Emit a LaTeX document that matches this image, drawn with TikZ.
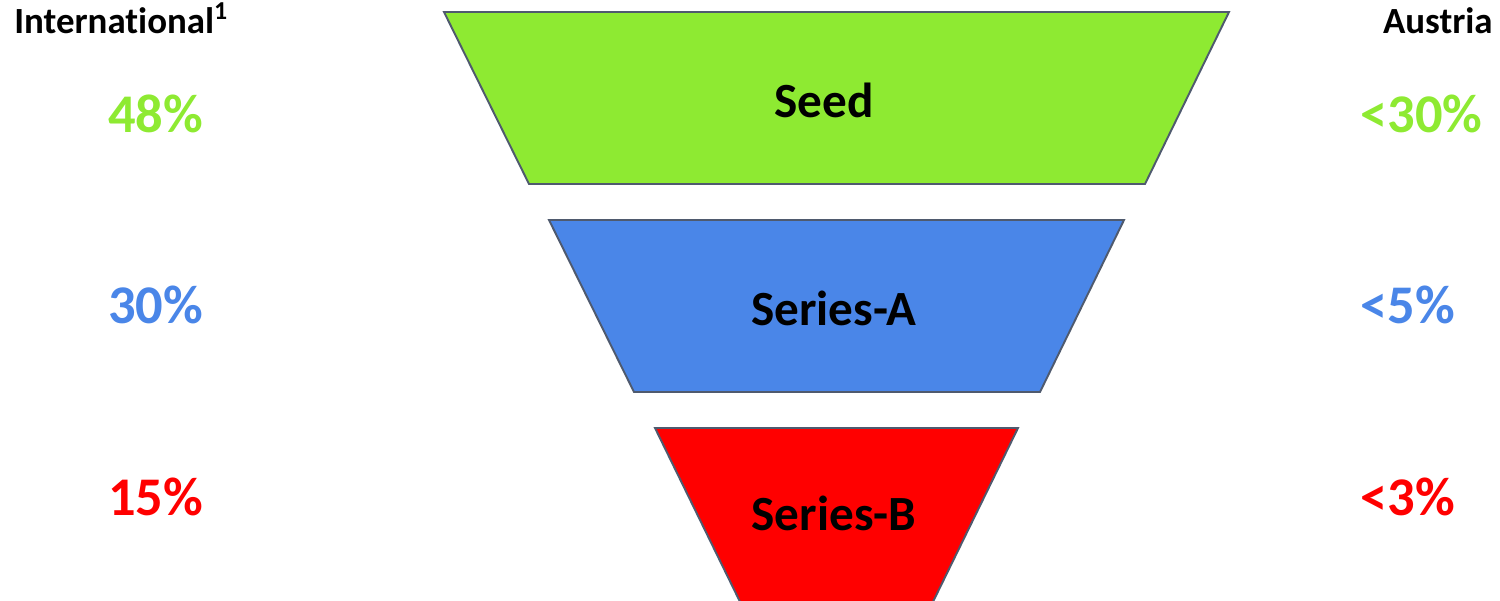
\documentclass[tikz,border=0pt]{standalone}
\usepackage{fontspec}
\setmainfont{Carlito}[Ligatures=NoCommon]
\usetikzlibrary{positioning}
\definecolor{SeedGreen}{HTML}{8EEA32}
\definecolor{SeriesABlue}{HTML}{4A86E8}
\definecolor{SeriesBRed}{HTML}{FF0000}
\definecolor{EdgeGray}{HTML}{4F5A6E}
\tikzset{
  stage/.style={draw=EdgeGray, line width=1.1pt, line join=miter},
  stagelabel/.style={anchor=base, inner sep=0pt, font=\fontsize{28}{30}\selectfont\bfseries},
  header/.style={anchor=base west, inner sep=0pt, font=\fontsize{21}{23}\selectfont\bfseries},
  share/.style={anchor=base west, inner sep=0pt, font=\fontsize{31}{33}\selectfont\bfseries}
}
\begin{document}
\begin{tikzpicture}[x=0.02cm, y=-0.02cm]
\useasboundingbox (0,0) rectangle (1500,600);
\clip (0,0) rectangle (1500,600);
% funnel stages
\draw[stage, fill=SeedGreen] (444,12) -- (1229,12) -- (1145,184) -- (529,184) -- cycle;
\draw[stage, fill=SeriesABlue] (549,220) -- (1124,220) -- (1040,392) -- (634,392) -- cycle;
\draw[stage, fill=SeriesBRed] (655,428) -- (1018,428) -- (928,612) -- (745,612) -- cycle;
\node[stagelabel] (seed) at (824,117) {Seed};
\node[stagelabel] (seriesa) at (834,325) {Series-A};
\node[stagelabel] (seriesb) at (834,530) {Series-B};
% column headers
\node[header] (intl) at (14,33) {International\textsuperscript{1}};
\node[header, anchor=base east] (austria) at (1493,33) {Austria};
% shares per stage
\node[share, text=SeedGreen] (intlseed) at (108,132) {48\%};
\node[share, text=SeriesABlue] (intla) at (108,323) {30\%};
\node[share, text=SeriesBRed] (intlb) at (108,515) {15\%};
\node[share, text=SeedGreen] (atseed) at (1360,132) {<30\%};
\node[share, text=SeriesABlue] (ata) at (1360,323) {<5\%};
\node[share, text=SeriesBRed] (atb) at (1360,515) {<3\%};
\end{tikzpicture}
\end{document}
